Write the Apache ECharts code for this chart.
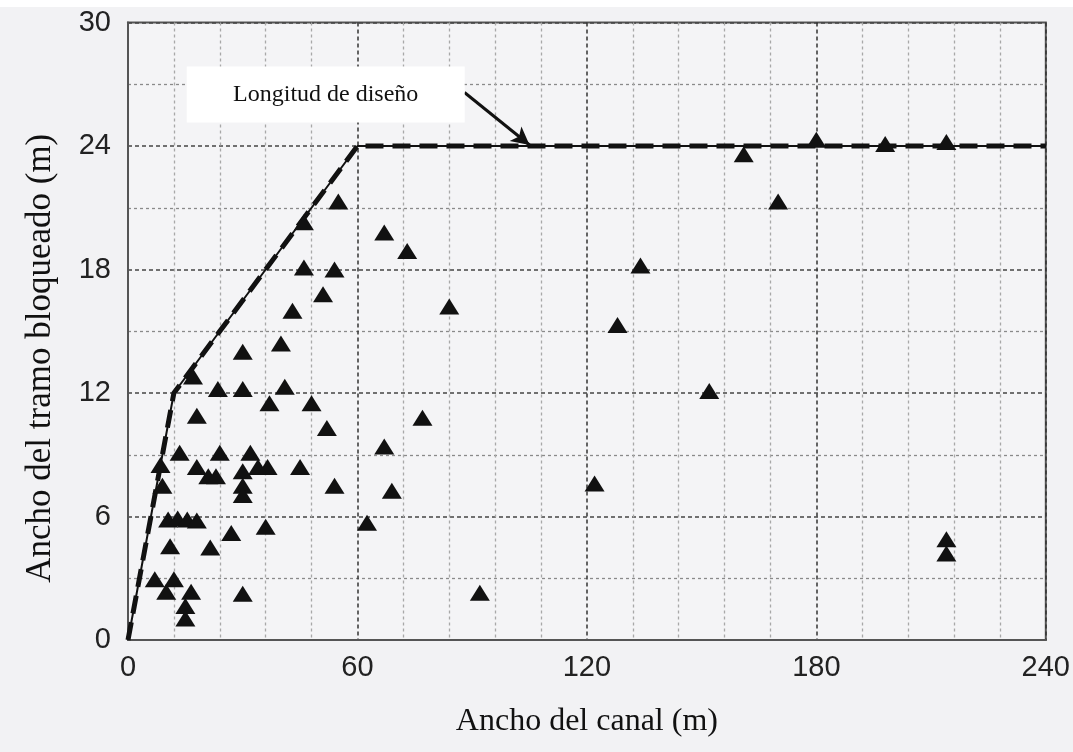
<!DOCTYPE html>
<html>
<head>
<meta charset="utf-8">
<script src="https://cdn.jsdelivr.net/npm/echarts@6/dist/echarts.min.js"></script>
<style>
html,body{margin:0;padding:0;background:#f2f2f4;}
#c{width:1073px;height:752px;}
</style>
</head>
<body>
<div id="c"></div>
<script>
// Data
var xTicks = [0, 60, 120, 180, 240];
var yTicks = [0, 6, 12, 18, 24, 30];
var designX = [0, 12, 60, 240];
var designY = [0, 12, 24, 24];
var obsX = [
  161, 170, 180, 198, 214, 134, 128, 152, 122, 214, 214, 92,
  84, 77, 55, 46, 67, 73, 46, 54, 51, 43, 40, 30,
  17, 23.5, 30, 41, 37, 48, 18, 52, 67,
  13.5, 24, 32, 8.5, 18, 21, 23, 30, 34, 36.5, 45, 54, 69,
  9, 30, 30,
  10.5, 13, 15.5, 18, 36, 62.5, 27, 21.5, 11,
  7, 12, 10, 16.5, 30, 15, 15
];
var obsY = [
  23.6, 21.3, 24.3, 24.1, 24.2, 18.2, 15.3, 12.1, 7.6, 4.9, 4.2, 2.3,
  16.2, 10.8, 21.3, 20.3, 19.8, 18.9, 18.1, 18.0, 16.8, 16.0, 14.4, 14.0,
  12.8, 12.2, 12.2, 12.3, 11.5, 11.5, 10.9, 10.3, 9.4,
  9.1, 9.1, 9.1, 8.5, 8.4, 7.95, 7.95, 8.2, 8.4, 8.4, 8.4, 7.5, 7.25,
  7.5, 7.5, 7.05,
  5.85, 5.9, 5.85, 5.8, 5.5, 5.7, 5.2, 4.5, 4.55,
  2.95, 2.95, 2.35, 2.35, 2.25, 1.65, 1.05
];
var labelText = 'Longitud de diseño';
var labelPos = [51.7, 26.5];
var arrowFrom = [88, 26.6];
var arrowTo = [105, 24.05];

var obs = obsX.map(function(x, i){ return [x, obsY[i]]; });
var design = designX.map(function(x, i){ return [x, designY[i]]; });

var chart = echarts.init(document.getElementById('c'));
var serif = '"Liberation Serif", "Times New Roman", serif';
var sans = '"Liberation Sans", Arial, sans-serif';
chart.setOption({
  backgroundColor: '#f2f2f4',
  animation: false,
  graphic: [{type:'rect', left:0, top:0, shape:{width:1073, height:7}, style:{fill:'#ffffff'}, z:-1}],
  grid: {left:128, right:18, top:22.5, bottom:112, show:true, backgroundColor:'#f4f4f6', borderColor:'#555', borderWidth:2},
  xAxis: {
    type:'value', min:0, max:240, interval:60,
    name:'Ancho del canal (m)', nameLocation:'middle', nameGap:66,
    nameTextStyle:{fontFamily:serif, fontSize:32, color:'#111'},
    axisLine:{show:true, lineStyle:{color:'#555', width:2}},
    axisTick:{show:false},
    axisLabel:{fontFamily:sans, fontSize:29, color:'#222', margin:13},
    splitLine:{show:true, lineStyle:{color:'#333', type:[4,3], width:1.5}},
    minorTick:{show:false, splitNumber:5},
    minorSplitLine:{show:true, lineStyle:{color:'#a8a8a8', type:[3,3], width:1.3}}
  },
  yAxis: {
    type:'value', min:0, max:30, interval:6,
    name:'Ancho del tramo bloqueado (m)', nameLocation:'middle', nameGap:70,
    nameTextStyle:{fontFamily:serif, fontSize:35, color:'#111', padding:[0,54,0,0]},
    axisLine:{show:true, lineStyle:{color:'#555', width:2}},
    axisTick:{show:false},
    axisLabel:{fontFamily:sans, fontSize:29, color:'#222', margin:17},
    splitLine:{show:true, lineStyle:{color:'#444', type:[4,3], width:1.5}},
    minorTick:{show:false, splitNumber:2},
    minorSplitLine:{show:true, lineStyle:{color:'#8a8a8a', type:[3,3], width:1.3}}
  },
  series: [
    {type:'line', data:design, symbol:'none', lineStyle:{color:'#111', width:2}, z:3,
     markLine:{silent:true, symbol:['none','arrow'], symbolSize:[14,18],
       lineStyle:{color:'#111', width:3, type:'solid'}, label:{show:false},
       data:[[{coord:arrowFrom},{coord:arrowTo}]]}},
    {type:'line', data:design, symbol:'none', lineStyle:{color:'#111', width:5, type:[18,9]}, z:4},
    {type:'scatter', data:obs, symbol:'triangle', symbolSize:[20,16], itemStyle:{color:'#111', opacity:1}, z:5},
    {type:'scatter', data:[labelPos], symbolSize:1, itemStyle:{color:'rgba(0,0,0,0)', opacity:1}, z:6,
     label:{show:true, position:'inside', formatter: labelText, fontFamily:serif, fontSize:24, color:'#111',
       backgroundColor:'#ffffff', width:278, height:56, lineHeight:56, align:'center', verticalAlign:'middle'}}
  ]
});
</script>
</body>
</html>
